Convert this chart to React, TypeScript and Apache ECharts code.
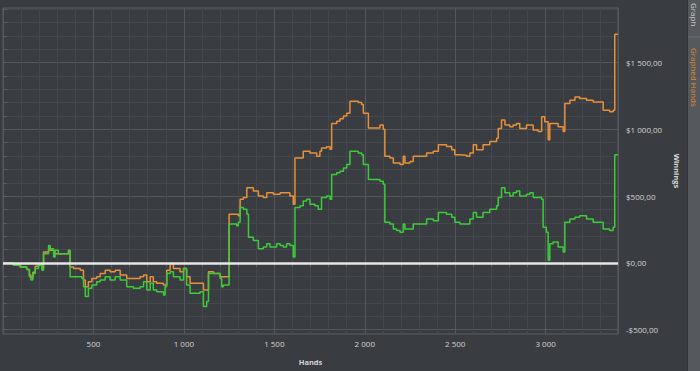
import { useEffect, useRef } from 'react';
import * as echarts from 'echarts';

const orangeHands = [0, 58, 95, 131, 146, 154, 165, 178, 196, 215, 224, 252, 261, 280, 362, 371, 390, 427, 445, 455, 472, 491, 518, 537, 565, 592, 620, 648, 684, 758, 777, 795, 814, 831, 850, 887, 905, 924, 942, 979, 998, 1015, 1034, 1108, 1136, 1164, 1200, 1250, 1301, 1311, 1329, 1348, 1384, 1412, 1439, 1458, 1495, 1532, 1586, 1605, 1614, 1660, 1697, 1734, 1752, 1761, 1789, 1808, 1817, 1845, 1863, 1882, 1900, 1918, 1964, 1983, 1992, 2020, 2084, 2102, 2111, 2139, 2158, 2195, 2213, 2222, 2250, 2268, 2342, 2379, 2407, 2452, 2481, 2498, 2526, 2563, 2581, 2600, 2618, 2654, 2691, 2729, 2738, 2756, 2775, 2802, 2820, 2839, 2857, 2894, 2931, 2959, 2978, 2995, 3014, 3023, 3069, 3097, 3106, 3134, 3162, 3188, 3226, 3263, 3318, 3354, 3373, 3382, 3399];
const orangeValues = [0, -17, -30, -49, -90, -110, -70, -25, -10, -42, 81, 106, 94, 69, 94, -30, -42, -54, -128, -178, -141, -116, -104, -79, -54, -67, -54, -91, -116, -104, -91, -141, -104, -141, -153, -165, -54, -5, -42, -67, -42, -104, -153, -202, -67, -79, -104, 365, 353, 477, 489, 563, 538, 501, 489, 526, 514, 526, 501, 440, 785, 835, 822, 798, 835, 860, 870, 850, 1044, 1060, 1080, 1100, 1120, 1210, 1200, 1185, 1120, 1010, 1032, 1000, 798, 785, 748, 736, 798, 748, 760, 798, 822, 835, 884, 872, 847, 810, 805, 798, 822, 884, 847, 884, 909, 933, 1007, 1069, 1032, 1020, 1032, 1044, 1007, 1032, 995, 983, 1094, 1057, 921, 1044, 1020, 983, 1193, 1217, 1242, 1230, 1217, 1205, 1143, 1131, 1143, 1711, 1711];

const greenHands = [0, 58, 95, 131, 146, 154, 165, 178, 196, 215, 224, 252, 261, 280, 288, 306, 362, 371, 436, 445, 455, 472, 491, 518, 537, 565, 592, 620, 648, 684, 721, 758, 777, 795, 814, 831, 850, 887, 896, 905, 924, 942, 979, 998, 1015, 1034, 1089, 1108, 1126, 1136, 1200, 1209, 1218, 1250, 1292, 1301, 1311, 1329, 1348, 1357, 1384, 1412, 1439, 1458, 1476, 1513, 1532, 1550, 1568, 1586, 1605, 1614, 1642, 1660, 1679, 1697, 1724, 1743, 1761, 1789, 1808, 1817, 1845, 1863, 1882, 1900, 1918, 1964, 1983, 1992, 2020, 2084, 2102, 2111, 2139, 2158, 2176, 2195, 2213, 2222, 2268, 2342, 2379, 2407, 2452, 2481, 2498, 2526, 2581, 2600, 2618, 2654, 2691, 2729, 2738, 2756, 2775, 2802, 2820, 2839, 2857, 2894, 2913, 2931, 2978, 2986, 3004, 3014, 3023, 3041, 3069, 3097, 3106, 3134, 3162, 3188, 3226, 3263, 3318, 3354, 3373, 3382, 3399];
const greenValues = [0, -17, -30, -49, -104, -128, -79, -42, -17, -54, 69, 131, 106, 44, 94, 69, 89, -104, -116, -178, -252, -190, -165, -141, -128, -104, -128, -104, -128, -178, -190, -178, -141, -202, -153, -202, -215, -240, -178, -79, -67, -104, -128, -42, -165, -227, -215, -326, -289, -79, -116, -178, -165, 291, 279, 304, 415, 402, 365, 193, 168, 106, 119, 143, 119, 143, 131, 119, 143, 131, 44, 415, 427, 464, 477, 440, 427, 402, 489, 501, 477, 662, 674, 686, 711, 736, 835, 822, 810, 736, 625, 612, 588, 304, 291, 254, 242, 230, 291, 254, 291, 328, 316, 378, 365, 341, 304, 291, 328, 378, 341, 378, 402, 427, 489, 563, 526, 501, 526, 538, 501, 514, 526, 489, 477, 267, 230, 20, 143, 156, 119, 81, 304, 328, 341, 353, 328, 304, 254, 242, 267, 810, 815];

const xTickLabels = [500, 1000, 1500, 2000, 2500, 3000];
const yMinorTicks = [-500, -400, -300, -200, -100, 0, 100, 200, 300, 400, 500, 600, 700, 800, 900, 1000, 1100, 1200, 1300, 1400, 1500, 1600, 1700, 1800, 1900];
const yMajorTicks = [-500, 0, 500, 1000, 1500];

const BG = '#393c40';
const MINOR = '#44474b';
const MAJOR = '#54575b';
const BORDER = '#5c5f63';
const TEXT = '#d4d4d4';
const FONT = '"Open Sans", sans-serif';

function spaced(n: number): string {
  return String(Math.abs(Math.round(n))).replace(/\B(?=(\d{3})+(?!\d))/g, ' ');
}

function zip(h: number[], v: number[]) {
  return h.map((x, i) => [x, v[i]]);
}

export default function App() {
  const ref = useRef<HTMLDivElement>(null);
  useEffect(() => {
    const chart = echarts.init(ref.current!, null, { renderer: 'svg' });
    chart.setOption({
      animation: false,
      backgroundColor: BG,
      textStyle: { fontFamily: FONT },
      grid: { left: 3, right: 82, top: 8, bottom: 33, show: true, borderColor: BORDER, borderWidth: 1, containLabel: false },
      xAxis: [
        {
          type: 'value', min: 0, max: 3400, interval: 100, position: 'bottom',
          axisLine: { show: false },
          axisTick: { show: true, length: 4, lineStyle: { color: BORDER } },
          axisLabel: { show: false },
          splitLine: { show: true, lineStyle: { color: MINOR, width: 1 } },
        },
        {
          type: 'value', min: 0, max: 3400, interval: 500, position: 'bottom', offset: 0,
          axisLine: { show: false },
          axisTick: { show: false },
          axisLabel: {
            show: true, color: TEXT, fontSize: 8, fontFamily: FONT, margin: 5,
            showMinLabel: false, showMaxLabel: false,
            formatter: (v: number) => (xTickLabels.indexOf(v) >= 0 ? spaced(v) : ''),
          },
          splitLine: { show: true, lineStyle: { color: MAJOR, width: 1 } },
          name: 'Hands', nameLocation: 'middle', nameGap: 24,
          nameTextStyle: { color: TEXT, fontWeight: 'bold', fontSize: 7.5, fontFamily: FONT },
        },
      ],
      yAxis: [
        {
          type: 'value', position: 'right', min: -532, max: 1908,
          axisLine: { show: false },
          axisTick: { show: true, length: 4, customValues: yMinorTicks, lineStyle: { color: BORDER } },
          axisLabel: { show: false },
          splitLine: { show: true, lineStyle: { color: MINOR, width: 1 } },
        },
        {
          type: 'value', position: 'right', min: -532, max: 1908, offset: 0,
          axisLine: { show: false },
          axisTick: { show: false, customValues: yMajorTicks },
          axisLabel: {
            customValues: yMajorTicks, color: TEXT, fontSize: 8, fontFamily: FONT, margin: 8,
            formatter: (v: number) => (v < 0 ? '-' : '') + '$' + spaced(v) + ',00',
          },
          splitLine: { show: true, lineStyle: { color: MAJOR, width: 1 } },
          name: 'Winnings', nameLocation: 'middle', nameRotate: -90, nameGap: 45,
          nameTextStyle: { color: TEXT, fontWeight: 'bold', fontSize: 7.5, fontFamily: FONT },
        },
      ],
      graphic: [
        { type: 'rect', shape: { x: 688, y: 0, width: 12, height: 371 }, style: { fill: '#55585c' }, silent: true },
        { type: 'line', shape: { x1: 688, y1: 37, x2: 700, y2: 37 }, style: { stroke: '#6a6d71', lineWidth: 1 }, silent: true },
        { type: 'line', shape: { x1: 687.5, y1: 0, x2: 687.5, y2: 371 }, style: { stroke: '#313337', lineWidth: 1 }, silent: true },
        {
          type: 'text', x: 694, y: 3, rotation: -Math.PI / 2, silent: true,
          style: { text: 'Graph', fill: '#d0d0d0', font: '8px "Open Sans", sans-serif', align: 'left', verticalAlign: 'middle' },
        },
        {
          type: 'text', x: 694, y: 48, rotation: -Math.PI / 2, silent: true,
          style: { text: 'Graphed Hands', fill: '#e08a2e', font: '8px "Open Sans", sans-serif', align: 'left', verticalAlign: 'middle' },
        },
      ],
      series: [
        {
          name: 'Winnings', type: 'line', xAxisIndex: 0, yAxisIndex: 0, step: 'end',
          data: zip(orangeHands, orangeValues), symbol: 'none', showSymbol: false,
          lineStyle: { color: '#e8913a', width: 1.5 }, itemStyle: { color: '#e8913a' },
        },
        {
          name: 'All-in EV', type: 'line', xAxisIndex: 0, yAxisIndex: 0, step: 'end',
          data: zip(greenHands, greenValues), symbol: 'none', showSymbol: false,
          lineStyle: { color: '#3ccc3a', width: 1.5 }, itemStyle: { color: '#3ccc3a' },
          markLine: {
            silent: true, symbol: 'none', label: { show: false },
            lineStyle: { color: '#e6e6e6', width: 2.5, type: 'solid' },
            data: [{ yAxis: 0 }],
          },
        },
      ],
    });
    return () => chart.dispose();
  }, []);
  return <div ref={ref} style={{ position: 'fixed', left: 0, top: 0, width: 700, height: 371 }} />;
}
